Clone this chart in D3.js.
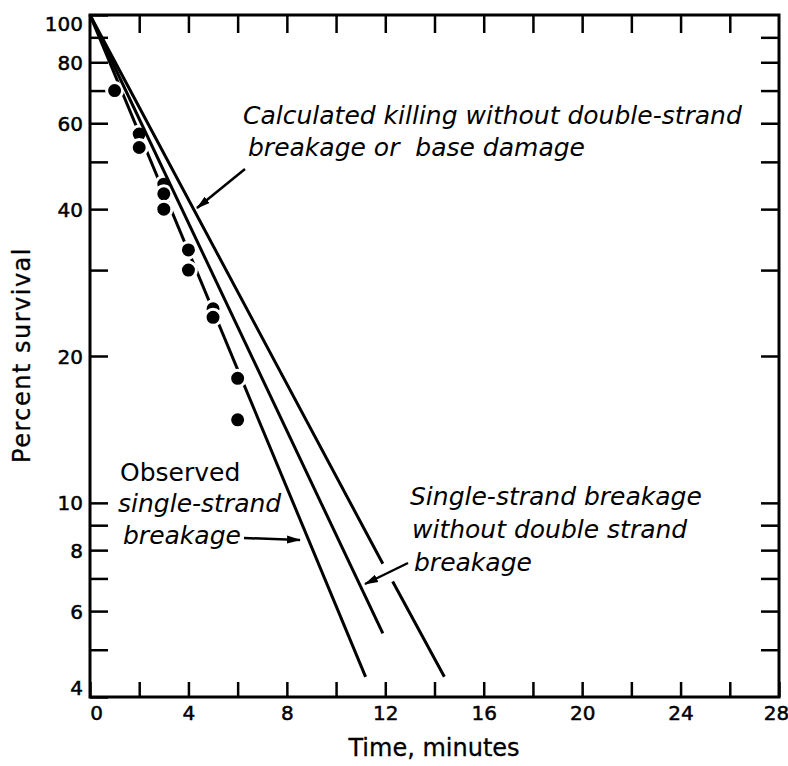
<!DOCTYPE html>
<html>
<head>
<meta charset="utf-8">
<script src="https://cdn.jsdelivr.net/npm/d3@7"></script>
<style>
body { margin: 0; background: #fff; }
svg { display: block; }
.axis text { font-family: "DejaVu Sans", sans-serif; font-size: 20px; fill: #000; stroke: #000; stroke-width: 0.5; }
.axis line { stroke: #000; stroke-width: 2.5; }
.axis path { display: none; }
.note { font-family: "DejaVu Sans", sans-serif; font-size: 25px; fill: #000; white-space: pre; }
.title { font-family: "DejaVu Sans", sans-serif; font-size: 24px; fill: #000; stroke: #000; stroke-width: 0.3; }
</style>
</head>
<body>
<svg id="chart" width="788" height="766"></svg>
<script>
// observed survival points (minutes, percent)
var obsTime = [1, 2, 2, 3, 3, 3, 4, 4, 5, 5, 6, 6];
var obsSurvival = [70, 57, 53.5, 45, 43, 40, 33, 30, 25, 24, 18, 14.8];

// straight lines on the semilog plot, null = break in the line
var observedTime = [0, 11.2];
var observedSurvival = [100, 4.4];
var singleTime = [0, 11.9];
var singleSurvival = [100, 5.4];
var calcTime = [0, 11.9, null, 12.3, 14.4];
var calcSurvival = [100, 7.5, null, 6.9, 4.4];

var xTicks = [0, 2, 4, 6, 8, 10, 12, 14, 16, 18, 20, 22, 24, 26, 28];
var xLabels = [0, 4, 8, 12, 16, 20, 24, 28];
var yTicks = [100, 90, 80, 70, 60, 50, 40, 30, 20, 10, 9, 8, 7, 6, 5, 4];
var yLabels = [100, 80, 60, 40, 20, 10, 8, 6, 4];

var svg = d3.select("#chart");
svg.append("rect").attr("width", 788).attr("height", 766).attr("fill", "#fff");

var X = d3.scaleLinear().domain([0, 28]).range([90, 779]);
var Y = d3.scaleLog().domain([4, 100]).range([697, 15]);

function zip(a, b) {
	return a.map(function(d, i) { return [d, b[i]]; });
}

// axes, ticks pointing inward
var left = svg.append("g").attr("class", "axis")
	.attr("transform", "translate(" + X(0) + ",0)")
	.call(d3.axisLeft(Y).tickValues(yTicks).tickSizeInner(-18).tickSizeOuter(0).tickPadding(7)
		.tickFormat(function(d) { return yLabels.indexOf(d) >= 0 ? d : ""; }));
left.selectAll(".tick text").attr("dy", function(d) {
	if (d == 100) return "0.75em";
	if (d == 4) return "-0.15em";
	return "0.35em";
});

svg.append("g").attr("class", "axis")
	.attr("transform", "translate(" + X(28) + ",0)")
	.call(d3.axisRight(Y).tickValues(yTicks.slice(1, -1)).tickSizeInner(-18).tickSizeOuter(0).tickFormat(""));

var bottom = svg.append("g").attr("class", "axis")
	.attr("transform", "translate(0," + Y(4) + ")")
	.call(d3.axisBottom(X).tickValues(xTicks).tickSizeInner(-15).tickSizeOuter(0).tickPadding(9)
		.tickFormat(function(d) { return xLabels.indexOf(d) >= 0 ? d : ""; }));
bottom.selectAll(".tick text").attr("dx", function(d) {
	if (d == 0) return 6;
	if (d == 28) return -3;
	return 0;
});

svg.append("g").attr("class", "axis")
	.attr("transform", "translate(0," + Y(100) + ")")
	.call(d3.axisTop(X).tickValues(xTicks.slice(1, -1)).tickSizeInner(-18).tickSizeOuter(0).tickFormat(""));

// frame
svg.append("rect")
	.attr("x", X(0)).attr("y", Y(100))
	.attr("width", X(28) - X(0)).attr("height", Y(4) - Y(100))
	.attr("fill", "none").attr("stroke", "#000").attr("stroke-width", 3);

var line = d3.line()
	.defined(function(d) { return d[0] != null; })
	.x(function(d) { return X(d[0]); })
	.y(function(d) { return Y(d[1]); });

svg.append("path").datum(zip(observedTime, observedSurvival))
	.attr("d", line).attr("fill", "none").attr("stroke", "#000").attr("stroke-width", 3);

// points, white ring cuts the observed line
svg.append("g").selectAll("circle")
	.data(zip(obsTime, obsSurvival))
	.enter().append("circle")
	.attr("cx", function(d) { return X(d[0]); })
	.attr("cy", function(d) { return Y(d[1]); })
	.attr("r", 8)
	.attr("fill", "#000")
	.attr("stroke", "#fff")
	.attr("stroke-width", 3);

svg.append("path").datum(zip(singleTime, singleSurvival))
	.attr("d", line).attr("fill", "none").attr("stroke", "#000").attr("stroke-width", 3);
svg.append("path").datum(zip(calcTime, calcSurvival))
	.attr("d", line).attr("fill", "none").attr("stroke", "#000").attr("stroke-width", 3);

// arrows
svg.append("defs").append("marker")
	.attr("id", "head")
	.attr("viewBox", "0 -5 14 10")
	.attr("refX", 13).attr("refY", 0)
	.attr("markerUnits", "userSpaceOnUse")
	.attr("markerWidth", 14).attr("markerHeight", 10)
	.attr("orient", "auto")
	.append("path").attr("d", "M0,-4L14,0L0,4Z").attr("fill", "#000");

var arrows = [
	[245, 169, 197, 208],
	[244, 538, 300, 540],
	[408, 563, 365, 584]
];
svg.append("g").selectAll("line")
	.data(arrows)
	.enter().append("line")
	.attr("x1", function(d) { return d[0]; })
	.attr("y1", function(d) { return d[1]; })
	.attr("x2", function(d) { return d[2]; })
	.attr("y2", function(d) { return d[3]; })
	.attr("stroke", "#000").attr("stroke-width", 2.5)
	.attr("marker-end", "url(#head)");

// annotation text
var notes = [
	["Calculated killing without double-strand", 243, 124, true],
	["breakage or  base damage", 248, 156, true],
	["Observed", 120, 481, false],
	["single-strand", 118, 512, true],
	["breakage", 123, 544, true],
	["Single-strand breakage", 410, 505, true],
	["without double strand", 412, 538, true],
	["breakage", 414, 571, true]
];
svg.append("g").selectAll("text")
	.data(notes)
	.enter().append("text")
	.attr("class", "note")
	.attr("x", function(d) { return d[1]; })
	.attr("y", function(d) { return d[2]; })
	.attr("font-style", function(d) { return d[3] ? "italic" : "normal"; })
	.text(function(d) { return d[0]; });

svg.append("text").attr("class", "title")
	.attr("text-anchor", "middle")
	.attr("x", 434).attr("y", 756)
	.text("Time, minutes");

svg.append("text").attr("class", "title")
	.attr("text-anchor", "middle")
	.attr("letter-spacing", 1.5)
	.attr("transform", "translate(30,355) rotate(-90)")
	.text("Percent survival");
</script>
</body>
</html>
